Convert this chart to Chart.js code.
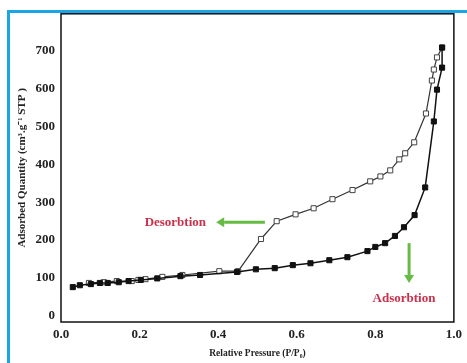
<!DOCTYPE html>
<html>
<head>
<meta charset="utf-8">
<script src="https://cdn.jsdelivr.net/npm/chart.js@4.4.1/dist/chart.umd.min.js"></script>
<style>
	html, body { margin: 0; padding: 0; background: #fff; }
	#wrap { position: relative; width: 467px; height: 363px; }
	#frame {
		position: absolute; left: 7px; top: 10px; right: -10px; bottom: -10px;
		border-top: 3px solid #1aa6e6; border-left: 3px solid #1aa6e6;
	}
	#chart { position: absolute; left: 0; top: 0; }
</style>
</head>
<body>
<div id="wrap">
	<div id="frame"></div>
	<canvas id="chart" width="467" height="363"></canvas>
</div>
<script>
// 吸着枝（P/P0, 吸着量）
const adsP = [0.030, 0.048, 0.076, 0.099, 0.119, 0.147, 0.172, 0.203, 0.245, 0.304, 0.354, 0.448, 0.496, 0.544, 0.590, 0.635, 0.683, 0.729, 0.780, 0.800, 0.825, 0.850, 0.873, 0.900, 0.927, 0.949, 0.957, 0.970, 0.970];
const adsV = [76, 81, 84, 87, 87, 89, 92, 95, 99, 105, 108, 116, 123, 126, 134, 139, 147, 155, 171, 182, 192, 211, 234, 266, 339, 513, 597, 655, 708];

// 脱着枝
const desP = [0.970, 0.957, 0.949, 0.944, 0.929, 0.899, 0.876, 0.861, 0.838, 0.813, 0.787, 0.742, 0.691, 0.643, 0.597, 0.549, 0.509, 0.451, 0.403, 0.309, 0.258, 0.215, 0.197, 0.180, 0.142, 0.109, 0.071];
const desV = [708, 682, 650, 621, 534, 458, 429, 413, 384, 368, 355, 332, 308, 284, 268, 250, 203, 118, 118, 108, 103, 97, 95, 92, 92, 89, 87];

const X_TICKS = [0, 0.2, 0.4, 0.6, 0.8, 1.0];
const Y_TICKS = [0, 100, 200, 300, 400, 500, 600, 700];

// 注記（データ座標）
const NOTES = [
	{ text: 'Desorbtion', x: 0.291, y: 247 },
	{ text: 'Adsorbtion', x: 0.873, y: 45 },
];
const ARROWS = [
	{ from: [0.519, 247], to: [0.395, 247] },
	{ from: [0.886, 192], to: [0.886, 87] },
];

const SERIF = '"Liberation Serif", "Times New Roman", serif';

const toPoints = (xs, ys) => xs.map((x, i) => ({ x, y: ys[i] }));

const frameBox = {
	id: 'frameBox',
	beforeDatasetsDraw(chart) {
		const { ctx, chartArea: a } = chart;
		ctx.save();
		ctx.strokeStyle = '#111';
		ctx.lineWidth = 1.5;
		ctx.strokeRect(a.left, a.top, a.right - a.left, a.bottom - a.top);
		ctx.restore();
	},
};

const notes = {
	id: 'notes',
	afterDatasetsDraw(chart) {
		const { ctx, scales: { x, y } } = chart;
		ctx.save();
		// 矢印
		ctx.strokeStyle = '#66bb44';
		ctx.fillStyle = '#66bb44';
		ctx.lineWidth = 3;
		ARROWS.forEach(({ from, to }) => {
			const x1 = x.getPixelForValue(from[0]), y1 = y.getPixelForValue(from[1]);
			const x2 = x.getPixelForValue(to[0]), y2 = y.getPixelForValue(to[1]);
			const ang = Math.atan2(y2 - y1, x2 - x1);
			const hl = 8, hw = 5;
			const bx = x2 - hl * Math.cos(ang), by = y2 - hl * Math.sin(ang);
			ctx.beginPath();
			ctx.moveTo(x1, y1);
			ctx.lineTo(bx, by);
			ctx.stroke();
			ctx.beginPath();
			ctx.moveTo(x2, y2);
			ctx.lineTo(bx + hw * Math.sin(ang), by - hw * Math.cos(ang));
			ctx.lineTo(bx - hw * Math.sin(ang), by + hw * Math.cos(ang));
			ctx.closePath();
			ctx.fill();
		});
		// ラベル
		ctx.fillStyle = '#c9304a';
		ctx.font = 'bold 13px ' + SERIF;
		ctx.textAlign = 'center';
		ctx.textBaseline = 'middle';
		NOTES.forEach((n) => {
			ctx.fillText(n.text, x.getPixelForValue(n.x), y.getPixelForValue(n.y));
		});
		ctx.restore();
	},
};

new Chart(document.getElementById('chart'), {
	type: 'line',
	data: {
		datasets: [
			{
				label: 'Adsorption',
				data: toPoints(adsP, adsV),
				borderColor: '#111',
				borderWidth: 1.5,
				pointStyle: 'rect',
				pointRadius: 3.6,
				pointBackgroundColor: '#111',
				pointBorderColor: '#111',
				pointBorderWidth: 1,
				tension: 0,
			},
			{
				label: 'Desorption',
				data: toPoints(desP, desV),
				borderColor: '#333',
				borderWidth: 1.2,
				pointStyle: 'rect',
				pointRadius: 3.6,
				pointBackgroundColor: '#fff',
				pointBorderColor: '#444',
				pointBorderWidth: 1,
				tension: 0,
			},
		],
	},
	options: {
		responsive: false,
		animation: false,
		layout: { padding: { left: 0, right: 10, top: 13, bottom: 0 } },
		plugins: {
			legend: { display: false },
			tooltip: { enabled: false },
		},
		scales: {
			x: {
				type: 'linear',
				min: 0,
				max: 1.0,
				grid: { display: false, drawTicks: false },
				border: { display: false },
				afterBuildTicks: (s) => { s.ticks = X_TICKS.map((v) => ({ value: v })); },
				afterFit: (s) => { s.height = 41; },
				ticks: {
					padding: 5,
					color: '#222',
					font: { family: SERIF, size: 13, weight: 'bold' },
					callback: (v) => Number(v).toFixed(1),
				},
				title: {
					display: true,
					text: 'Relative Pressure (P/P\u2080)',
					color: '#222',
					font: { family: SERIF, size: 9.5, weight: 'bold' },
					padding: { top: 0, bottom: 4 },
				},
			},
			y: {
				type: 'linear',
				min: -16,
				max: 797,
				grid: { display: false, drawTicks: false },
				border: { display: false },
				afterBuildTicks: (s) => { s.ticks = Y_TICKS.map((v) => ({ value: v })); },
				afterFit: (s) => { s.width = 61; },
				ticks: {
					padding: 6,
					color: '#222',
					font: { family: SERIF, size: 13, weight: 'bold' },
				},
				title: {
					display: true,
					text: 'Adsorbed Quantity (cm\u00b3.g\u207b\u00b9 STP )',
					color: '#222',
					font: { family: SERIF, size: 11, weight: 'bold' },
					padding: { top: 16, bottom: 0 },
				},
			},
		},
	},
	plugins: [frameBox, notes],
});
</script>
</body>
</html>
